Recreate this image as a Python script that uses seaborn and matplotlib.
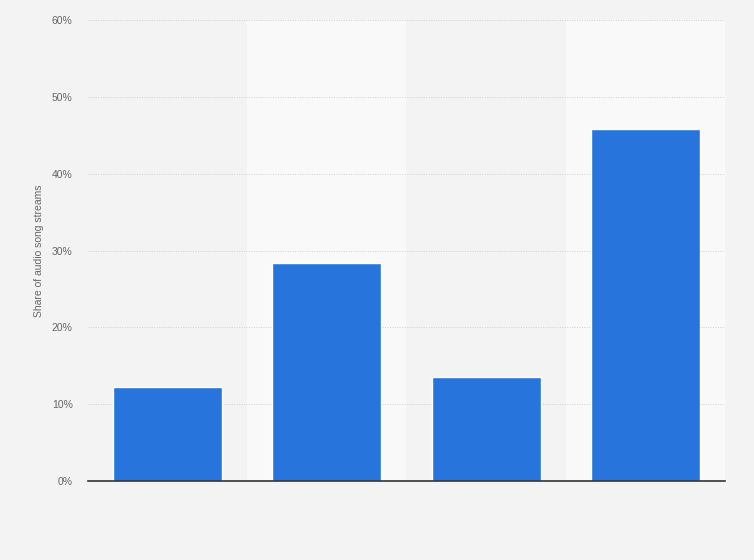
import matplotlib
matplotlib.use("Agg")
import matplotlib.pyplot as plt
import seaborn as sns
import pandas as pd

# values (no category labels are shown)
categories = ["Group 1", "Group 2", "Group 3", "Group 4"]
shares = [12.2, 28.4, 13.5, 45.8]
yticks = [0, 10, 20, 30, 40, 50, 60]
ytick_labels = ["0%", "10%", "20%", "30%", "40%", "50%", "60%"]

df = pd.DataFrame({"category": categories, "share": shares})

sns.set_theme(style="white")
plt.rcParams['font.family'] = ['Liberation Sans', 'DejaVu Sans']

fig = plt.figure(figsize=(7.54, 5.6), dpi=100, facecolor="#f3f3f3")
ax = fig.add_axes([0.1167, 0.141, 0.8448, 0.823])
ax.set_facecolor("#f3f3f3")

# lighter bands behind every second category
for i in range(len(categories)):
    if i % 2 == 1:
        ax.axvspan(i - 0.5, i + 0.5, color="#f9f9f9", zorder=0, lw=0)

sns.barplot(data=df, x="category", y="share", color="#2775dc", saturation=1,
            width=0.685, ax=ax, zorder=3)

ax.set_xlim(-0.5, len(categories) - 0.5)
ax.set_ylim(0, 60)
ax.set_yticks(yticks)
ax.set_yticklabels(ytick_labels, fontsize=7.5, color="#666666")
ax.set_xticks([])
ax.set_xlabel("")
ax.set_ylabel("Share of audio song streams", fontsize=7.5, color="#666666", labelpad=6)
ax.tick_params(axis="y", length=0, pad=11)
ax.yaxis.grid(True, linestyle=(0, (1, 1.5)), color="#d0d0d0", linewidth=0.7, zorder=1)
ax.set_axisbelow(True)
for s in ["top", "right", "left"]:
    ax.spines[s].set_visible(False)
ax.spines["bottom"].set_color("#333333")
ax.spines["bottom"].set_linewidth(1.2)
ax.spines["bottom"].set_zorder(4)

fig.savefig("out.png", dpi=100, facecolor=fig.get_facecolor())
